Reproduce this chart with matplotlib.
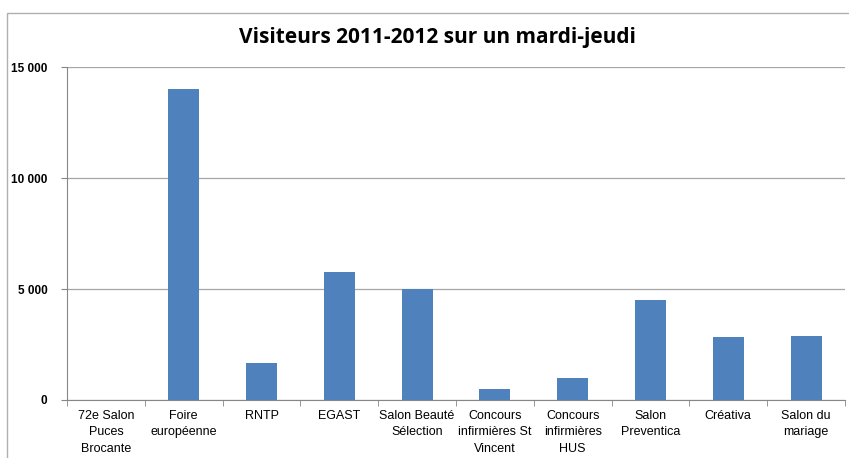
import numpy as np
import matplotlib.pyplot as plt
from matplotlib.patches import Rectangle
from matplotlib.ticker import FuncFormatter

categories = ["72e Salon\nPuces\nBrocante", "Foire\neuropéenne", "RNTP", "EGAST",
              "Salon Beauté\nSélection", "Concours\ninfirmières St\nVincent",
              "Concours\ninfirmières\nHUS", "Salon\nPreventica", "Créativa",
              "Salon du\nmariage"]
visiteurs = [0, 14000, 1650, 5750, 5000, 500, 1000, 4500, 2850, 2880]

plt.rcParams['font.family'] = ['Liberation Sans', 'DejaVu Sans']

fig = plt.figure(figsize=(8.49, 4.58), dpi=100)
ax = fig.add_axes([67/849, 1-400/458, (845-67)/849, (400-67)/458])

# cadre du graphique
fig.patches.append(Rectangle((7/849, -0.1), 1.2, 1-13/458+0.1, transform=fig.transFigure,
                             fill=False, edgecolor='#b0b0b0', lw=1))

x = np.arange(len(categories))
ax.bar(x, visiteurs, width=0.4, color='#4f81bd', zorder=3)

ax.set_xlim(-0.5, len(categories)-0.5)
ax.set_ylim(0, 15000)
ax.set_yticks([0, 5000, 10000, 15000])
ax.yaxis.set_major_formatter(FuncFormatter(lambda v, p: f"{int(v):,}".replace(",", " ")))
ax.grid(axis='y', color='#a6a6a6', lw=0.9, zorder=0)

ax.set_xticks(x)
ax.set_xticklabels(categories, fontsize=9, linespacing=1.5)
ax.set_xticks(np.arange(-0.5, len(categories)), minor=True)
ax.tick_params(axis='x', which='major', length=0, pad=7)
ax.tick_params(axis='x', which='minor', length=4, color='#868686')
ax.tick_params(axis='y', length=4, color='#868686', labelsize=8.5, pad=10)
for lab in ax.get_yticklabels():
    lab.set_fontweight('bold')

for side in ['top', 'right']:
    ax.spines[side].set_visible(False)
ax.spines['left'].set_color('#868686')
ax.spines['bottom'].set_color('#868686')

fig.text(437/849, 1-38/458, "Visiteurs 2011-2012 sur un mardi-jeudi",
         ha='center', va='center', fontsize=15, fontweight='bold',
         family=['Open Sans', 'DejaVu Sans'])

plt.savefig("out.png", dpi=100)
